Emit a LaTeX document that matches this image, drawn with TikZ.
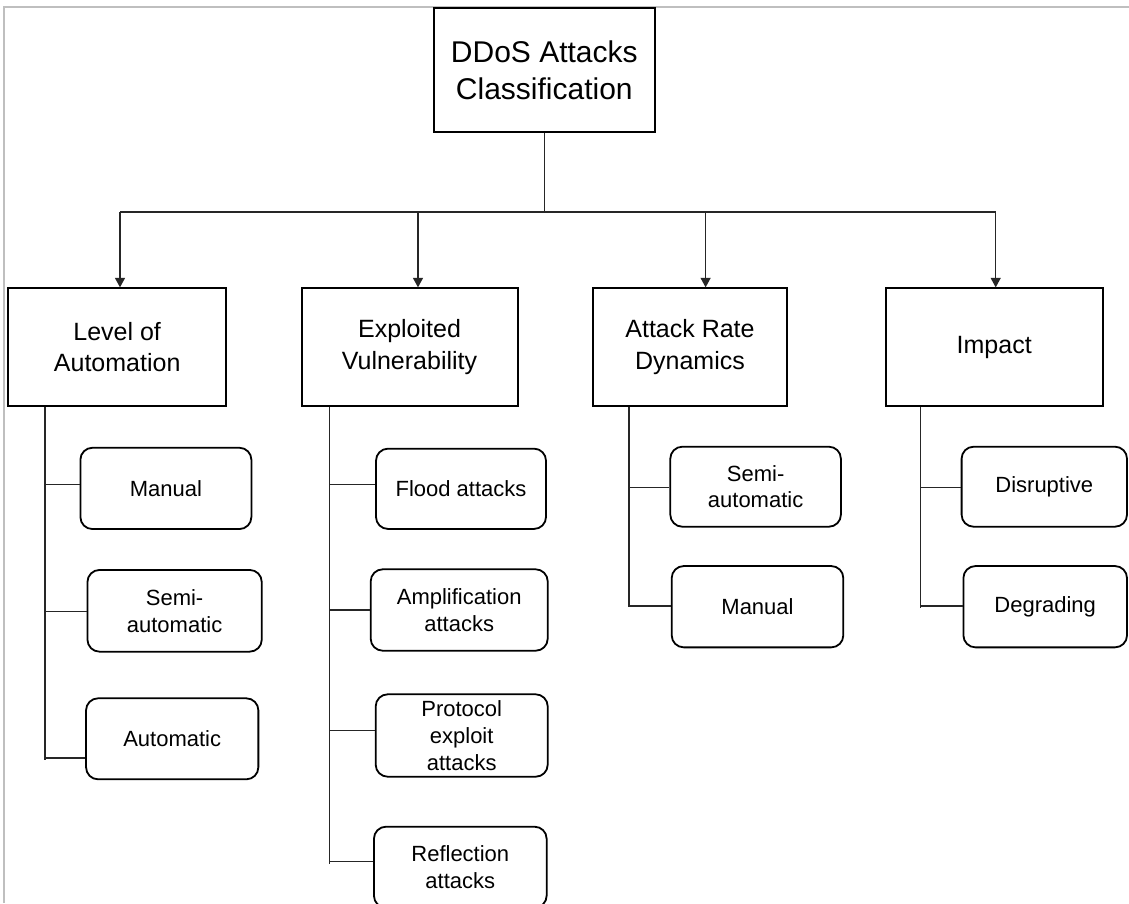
\documentclass[tikz,border=0pt]{standalone}
\usepackage{fontspec}
\setmainfont{Liberation Sans}
\usetikzlibrary{arrows.meta}
\begin{document}
\begin{tikzpicture}[x=1pt,y=-1pt,
  rootbox/.style={draw=black,line width=2pt,minimum width=221.5pt,minimum height=123.4pt,
    inner sep=0pt,align=center,font=\fontsize{30}{36.6}\selectfont},
  catbox/.style={draw=black,line width=2pt,minimum height=117.7pt,inner sep=0pt,
    align=center,font=\fontsize{25}{31.5}\selectfont},
  leafbox/.style={draw=black,line width=1.8pt,rounded corners=12pt,inner sep=0pt,
    align=center,font=\fontsize{22}{26.7}\selectfont},
  link/.style={line width=1.2pt,draw=black!85},
  arr/.style={link,-{Triangle[length=9.5pt,width=10pt]}},
  frameline/.style={draw=black!25,line width=1.8pt}
]
\useasboundingbox (0,0) rectangle (1129,903);
\fill[white] (0,0) rectangle (1129,903);
\clip (0,0) rectangle (1129,903);

% page frame
\draw[frameline] (4,903) -- (4,7) -- (1129,7);

% root and categories
\node[rootbox] (root) at (544.3,70) {DDoS Attacks\\Classification};
\node[catbox,minimum width=217.5pt] (c1) at (117.2,347.2) {Level of\\Automation};
\node[catbox,minimum width=216pt]   (c2) at (409.5,347.2) {Exploited\\Vulnerability};
\node[catbox,minimum width=194.7pt] (c3) at (690,347.2)   {Attack Rate\\Dynamics};
\node[catbox,minimum width=217.3pt] (c4) at (994.2,347.2) {Impact};

% leaves: level of automation
\node[leafbox,minimum width=171pt,minimum height=81.3pt]   (c1a) at (165.9,488.4) {Manual};
\node[leafbox,minimum width=174.3pt,minimum height=81.7pt] (c1b) at (174.6,610.8) {Semi-\\automatic};
\node[leafbox,minimum width=172.3pt,minimum height=81pt]   (c1c) at (172.2,738.8) {Automatic};

% leaves: exploited vulnerability
\node[leafbox,minimum width=170pt,minimum height=80.3pt]   (c2a) at (461,488.8)   {Flood attacks};
\node[leafbox,minimum width=177pt,minimum height=81.4pt]   (c2b) at (459.2,610)   {Amplification\\attacks};
\node[leafbox,minimum width=172pt,minimum height=82.4pt]   (c2c) at (461.7,735.5) {Protocol\\exploit\\attacks};
\node[leafbox,minimum width=172.7pt,minimum height=81pt]   (c2d) at (460.3,867.2) {Reflection\\attacks};

% leaves: attack rate dynamics
\node[leafbox,minimum width=170.6pt,minimum height=80pt]   (c3a) at (755.6,486.7) {Semi-\\automatic};
\node[leafbox,minimum width=171.6pt,minimum height=81.3pt] (c3b) at (757.5,606.7) {Manual};

% leaves: impact
\node[leafbox,minimum width=165.4pt,minimum height=80pt]   (c4a) at (1044.3,486.7) {Disruptive};
\node[leafbox,minimum width=163.6pt,minimum height=81.3pt] (c4b) at (1045.2,606.7) {Degrading};

% root to categories
\coordinate (t1) at (120,212);
\coordinate (t2) at (418,212);
\coordinate (t3) at (705.6,212);
\coordinate (t4) at (995.7,212);
\draw[link] (root.south) -- (root.south |- t1);
\draw[link] (t1) -- (t4);
\draw[arr] (t1) -- (t1 |- c1.north);
\draw[arr] (t2) -- (t2 |- c2.north);
\draw[arr] (t3) -- (t3 |- c3.north);
\draw[arr] (t4) -- (t4 |- c4.north);

% spines under each category
\coordinate (k1) at (45,760);
\coordinate (k2) at (329.3,864);
\coordinate (k3) at (629,607.3);
\coordinate (k4) at (920.3,608);
\draw[link] (k1 |- c1.south) -- (k1);
\draw[link] (k2 |- c2.south) -- (k2);
\draw[link] (k3 |- c3.south) -- (k3);
\draw[link] (k4 |- c4.south) -- (k4);

% branches to leaves
\coordinate (b1a) at (45,484.3);
\coordinate (b1b) at (45,611.7);
\coordinate (b1c) at (45,758);
\draw[link] (b1a) -- (b1a -| c1a.west);
\draw[link] (b1b) -- (b1b -| c1b.west);
\draw[link] (b1c) -- (b1c -| c1c.west);

\coordinate (b2a) at (329.3,484.3);
\coordinate (b2b) at (329.3,610);
\coordinate (b2c) at (329.3,730.7);
\coordinate (b2d) at (329.3,861.7);
\draw[link] (b2a) -- (b2a -| c2a.west);
\draw[link] (b2b) -- (b2b -| c2b.west);
\draw[link] (b2c) -- (b2c -| c2c.west);
\draw[link] (b2d) -- (b2d -| c2d.west);

\coordinate (b3a) at (629,487.7);
\coordinate (b3b) at (629,606);
\draw[link] (b3a) -- (b3a -| c3a.west);
\draw[link] (b3b) -- (b3b -| c3b.west);

\coordinate (b4a) at (920.3,487.7);
\coordinate (b4b) at (920.3,606);
\draw[link] (b4a) -- (b4a -| c4a.west);
\draw[link] (b4b) -- (b4b -| c4b.west);
\end{tikzpicture}
\end{document}
